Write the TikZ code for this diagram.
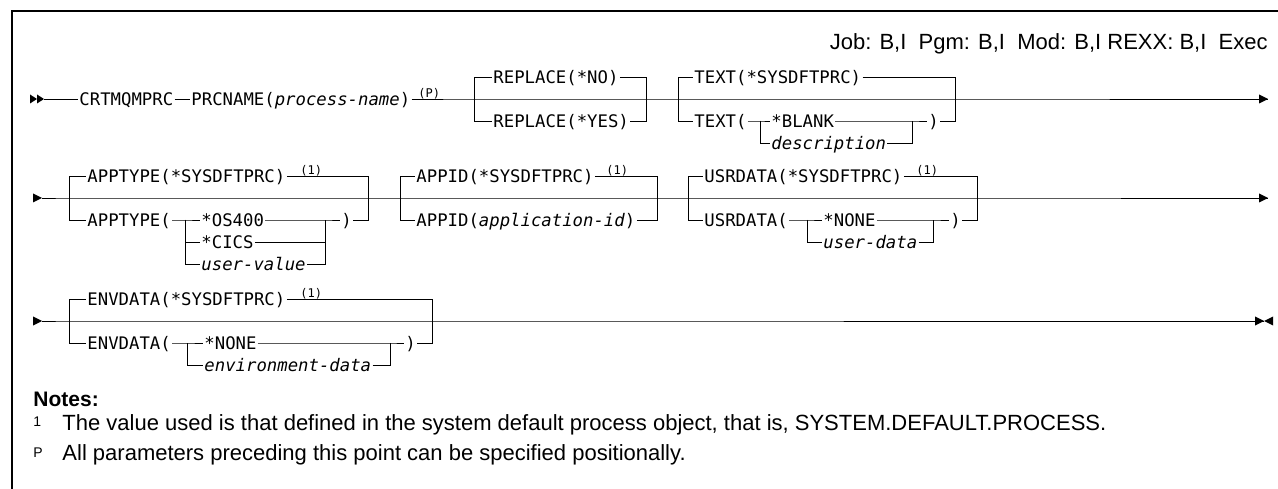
\documentclass[tikz,border=0pt]{standalone}
\usepackage{fontspec}
\setmainfont{Liberation Sans}
\newfontfamily\synfont{DejaVu Sans Mono}
\begin{document}
\begin{tikzpicture}[x=1pt,y=-1pt,line width=0.9pt,
	syn/.style={font=\synfont\fontsize{17.3}{20}\selectfont,inner xsep=1pt,inner ysep=0pt,text height=12.6pt,text depth=0pt,anchor=west},
	supr/.style={font=\synfont\fontsize{12}{14}\selectfont,inner sep=0pt,anchor=base west},
	lbl/.style={font=\fontsize{22}{26}\selectfont,inner sep=0pt,anchor=base west},
	mk/.style={font=\fontsize{14}{16}\selectfont,inner sep=0pt,anchor=base west},
	rmark/.pic={\fill (-9,-4.5) -- (0,0) -- (-9,4.5) -- cycle;},
	dmark/.pic={\fill (-7,-4.5) -- (0,0) -- (-7,4.5) -- cycle;},
	lmark/.pic={\fill (9,-4.5) -- (0,0) -- (9,4.5) -- cycle;}]
	\useasboundingbox (0,0) rectangle (1278,489);
	\draw[line width=1.1pt] (1278,11) -- (12,11) -- (12,489);
	
	\node[lbl,anchor=base east] (env) at (1268,50) {Job: B,I\ \ Pgm: B,I\ \ Mod: B,I REXX: B,I\ \ Exec};
	
	% first line
	\pic at (37,99) {dmark};
	\pic at (44,99) {dmark};
	\coordinate (s1) at (44,99);
	\node[syn] (crt) at (78,99) {CRTMQMPRC};
	\node[syn] (prc) at (190,99) {PRCNAME(\textit{process-name})};
	\node[supr] (pP) at (418,98) {(P)};
	\coordinate (rpL) at (474,99);
	\coordinate (rpR) at (646,99);
	\node[syn] (rpno) at (492,77) {REPLACE(*NO)};
	\node[syn] (rpyes) at (492,121) {REPLACE(*YES)};
	\coordinate (txL) at (678,99);
	\coordinate (txR) at (955,99);
	\node[syn] (txdft) at (693,77) {TEXT(*SYSDFTPRC)};
	\node[syn] (tx) at (693,121) {TEXT(};
	\coordinate (txj) at (760,121);
	\node[syn] (blank) at (770,121) {*BLANK};
	\node[syn] (desc) at (770,143) {\textit{description}};
	\coordinate (txk) at (912,121);
	\node[syn] (txc) at (927,121) {)};
	\coordinate (e1) at (1268,99);
	\draw (s1) -- (crt.west) (crt.east) -- (prc.west) (prc.east) -- (rpL) -- (rpR) -- (txL) -- (txR) -- (e1);
	\pic at (e1) {rmark};
	\draw (rpL) |- (rpno.west) (rpno.east) -| (rpR);
	\draw (rpL) |- (rpyes.west) (rpyes.east) -| (rpR);
	\draw (txL) |- (txdft.west) (txdft.east) -| (txR);
	\draw (txL) |- (tx.west) (tx.east) -- (txj) -- (blank.west) (blank.east) -- (txk) -- (txc.west) (txc.east) -| (txR);
	\draw (txj) |- (desc.west) (desc.east) -| (txk);
	
	% second line
	\pic at (42,198) {rmark};
	\coordinate (s2) at (42,198);
	\coordinate (atL) at (69,198);
	\coordinate (atR) at (368,198);
	\node[syn] (atdft) at (86,176) {APPTYPE(*SYSDFTPRC)};
	\node[supr] (at1) at (300,175) {(1)};
	\node[syn] (at) at (86,220) {APPTYPE(};
	\coordinate (atj) at (185,220);
	\node[syn] (os) at (200,220) {*OS400};
	\node[syn] (cics) at (200,242) {*CICS};
	\node[syn] (uval) at (200,264) {\textit{user-value}};
	\coordinate (atk) at (325,220);
	\node[syn] (atc) at (340,220) {)};
	\coordinate (aiL) at (400,198);
	\coordinate (aiR) at (657,198);
	\node[syn] (aidft) at (415,176) {APPID(*SYSDFTPRC)};
	\node[supr] (ai1) at (606,175) {(1)};
	\node[syn] (ai) at (415,220) {APPID(\textit{application-id})};
	\coordinate (udL) at (688,198);
	\coordinate (udR) at (977,198);
	\node[syn] (uddft) at (703,176) {USRDATA(*SYSDFTPRC)};
	\node[supr] (ud1) at (916,175) {(1)};
	\node[syn] (ud) at (703,220) {USRDATA(};
	\coordinate (udj) at (807,220);
	\node[syn] (udnone) at (822,220) {*NONE};
	\node[syn] (udval) at (822,242) {\textit{user-data}};
	\coordinate (udk) at (933,220);
	\node[syn] (udc) at (949,220) {)};
	\coordinate (e2) at (1268,198);
	\draw (s2) -- (atL) -- (atR) -- (aiL) -- (aiR) -- (udL) -- (udR) -- (e2);
	\pic at (e2) {rmark};
	\draw (atL) |- (atdft.west) (atdft.east) -| (atR);
	\draw (atL) |- (at.west) (at.east) -- (atj) -- (os.west) (os.east) -- (atk) -- (atc.west) (atc.east) -| (atR);
	\draw (atj) |- (cics.west) (cics.east) -| (atk);
	\draw (atj) |- (uval.west) (uval.east) -| (atk);
	\draw (aiL) |- (aidft.west) (aidft.east) -| (aiR);
	\draw (aiL) |- (ai.west) (ai.east) -| (aiR);
	\draw (udL) |- (uddft.west) (uddft.east) -| (udR);
	\draw (udL) |- (ud.west) (ud.east) -- (udj) -- (udnone.west) (udnone.east) -- (udk) -- (udc.west) (udc.east) -| (udR);
	\draw (udj) |- (udval.west) (udval.east) -| (udk);
	
	% third line
	\pic at (42,321) {rmark};
	\coordinate (s3) at (42,321);
	\coordinate (evL) at (69,321);
	\coordinate (evR) at (432,321);
	\node[syn] (evdft) at (86,299) {ENVDATA(*SYSDFTPRC)};
	\node[supr] (ev1) at (300,298) {(1)};
	\node[syn] (ev) at (86,343) {ENVDATA(};
	\coordinate (evj) at (187,343);
	\node[syn] (evnone) at (203,343) {*NONE};
	\node[syn] (evval) at (203,365) {\textit{environment-data}};
	\coordinate (evk) at (390,343);
	\node[syn] (evc) at (404,343) {)};
	\coordinate (e3) at (1264,321);
	\draw (s3) -- (evL) -- (evR) -- (e3);
	\pic at (e3) {rmark};
	\pic at (e3) {lmark};
	\draw (evL) |- (evdft.west) (evdft.east) -| (evR);
	\draw (evL) |- (ev.west) (ev.east) -- (evj) -- (evnone.west) (evnone.east) -- (evk) -- (evc.west) (evc.east) -| (evR);
	\draw (evj) |- (evval.west) (evval.east) -| (evk);
	
	% notes
	\node[lbl,font=\bfseries\fontsize{21}{24}\selectfont] (notes) at (33,406) {Notes:};
	\node[mk] (m1) at (33,426) {1};
	\node[lbl] (n1) at (62,430) {The value used is that defined in the system default process object, that is, SYSTEM.DEFAULT.PROCESS.};
	\node[mk] (mP) at (33,457) {P};
	\node[lbl] (nP) at (62,460) {All parameters preceding this point can be specified positionally.};
\end{tikzpicture}
\end{document}
